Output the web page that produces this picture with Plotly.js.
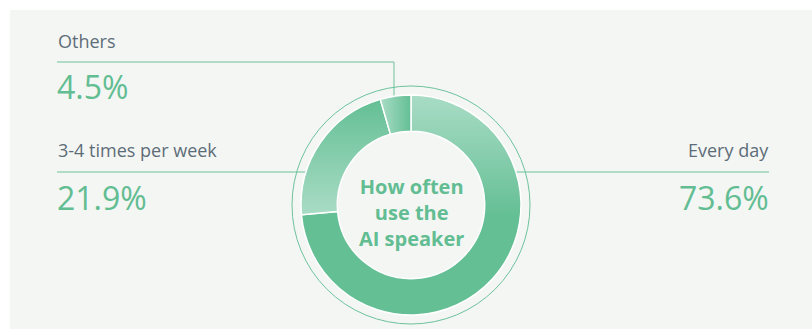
<!DOCTYPE html>
<html>
<head>
<meta charset="utf-8">
<script src="https://cdn.plot.ly/plotly-3.0.1.min.js"></script>
<style>
  html, body { margin: 0; padding: 0; background: #ffffff; }
  #chart { width: 812px; height: 329px; }
</style>
</head>
<body>
<div id="chart"></div>
<script>
/* ── DATA ─────────────────────────────────── */
const categories = ['Every day', '3-4 times per week', 'Others'];
const shares     = [73.6, 21.9, 4.5];
const centerText = 'How often<br>use the<br>AI speaker';

/* ── STYLE ────────────────────────────────── */
const W = 812, H = 329;
const GREEN = '#64bf95';
const GREEN_LIGHT = '#a9dcc5';
const LABEL_GREY = '#5d6d78';
const PCT_GREEN = '#62bd92';
const LINE_GREEN = '#6cc39b';
const FONT = 'Open Sans, sans-serif';

// pixel helpers -> paper coords (margins are zero)
const px = x => x / W;
const py = y => 1 - y / H;

const CX = 411, CY = 205, R = 110;

const trace = {
  type: 'pie',
  labels: categories,
  values: shares,
  hole: 0.67,
  sort: false,
  direction: 'clockwise',
  rotation: 0,
  textinfo: 'none',
  hoverinfo: 'label+percent',
  marker: { colors: [GREEN, GREEN, GREEN], line: { color: '#ffffff', width: 1.5 } },
  domain: { x: [px(CX - R), px(CX + R)], y: [py(CY + R), py(CY - R)] },
  showlegend: false,
};

function label(text, x, y, anchor) {
  return { text, x: px(x), y: py(y), xref: 'paper', yref: 'paper', xanchor: anchor, yanchor: 'middle',
           showarrow: false, font: { family: FONT, size: 18, color: LABEL_GREY } };
}
function pct(v, x, y, anchor) {
  return { text: v.toFixed(1) + '%', x: px(x), y: py(y), xref: 'paper', yref: 'paper', xanchor: anchor, yanchor: 'middle',
           showarrow: false, font: { family: FONT, size: 32, color: PCT_GREEN } };
}
function seg(x0, y0, x1, y1) {
  return { type: 'line', xref: 'paper', yref: 'paper', x0: px(x0), y0: py(y0), x1: px(x1), y1: py(y1),
           line: { color: LINE_GREEN, width: 1 }, layer: 'below' };
}

const layout = {
  width: W, height: H,
  margin: { l: 0, r: 0, t: 0, b: 0 },
  paper_bgcolor: '#ffffff',
  font: { family: FONT },
  shapes: [
    { type: 'rect', xref: 'paper', yref: 'paper', x0: px(10), x1: 1, y0: 0, y1: py(10),
      fillcolor: '#f4f6f4', line: { width: 0 }, layer: 'below' },
    { type: 'circle', xref: 'paper', yref: 'paper', x0: px(CX - 119), x1: px(CX + 119), y0: py(CY + 119), y1: py(CY - 119),
      line: { color: LINE_GREEN, width: 1 }, layer: 'below' },
    seg(57, 62, 394, 62),
    seg(394, 62, 394, 96),
    seg(57, 172, 306, 172),
    seg(516, 172, 769, 172),
  ],
  annotations: [
    label(categories[2], 56, 41, 'left'),
    pct(shares[2], 55, 87, 'left'),
    label(categories[1], 56, 150, 'left'),
    pct(shares[1], 55, 197, 'left'),
    label(categories[0], 771, 150, 'right'),
    pct(shares[0], 771, 197, 'right'),
    { text: centerText, x: px(CX), y: py(212), xref: 'paper', yref: 'paper', xanchor: 'center', yanchor: 'middle',
      showarrow: false, font: { family: FONT, size: 20, color: PCT_GREEN, weight: 'bold' } },
  ],
};

// per-slice gradients: light where each slice starts, darker as it sweeps clockwise
const GRADS = [
  { x1: 0.5, y1: 0, x2: 0.5, y2: 0.55 },
  { x1: 0.5, y1: 1, x2: 0.5, y2: 0 },
  { x1: 0, y1: 0.5, x2: 1, y2: 0.5 },
];

function applyGradients(gd) {
  const NS = 'http://www.w3.org/2000/svg';
  const defs = gd.querySelector('svg.main-svg defs');
  GRADS.forEach((g, i) => {
    const lg = document.createElementNS(NS, 'linearGradient');
    lg.setAttribute('id', 'slicegrad' + i);
    ['x1', 'y1', 'x2', 'y2'].forEach(k => lg.setAttribute(k, g[k]));
    [[0, GREEN_LIGHT], [1, GREEN]].forEach(([o, c]) => {
      const st = document.createElementNS(NS, 'stop');
      st.setAttribute('offset', o);
      st.setAttribute('stop-color', c);
      lg.appendChild(st);
    });
    defs.appendChild(lg);
  });
  gd.querySelectorAll('.slice path.surface').forEach((p, i) => {
    p.style.fill = 'url(#slicegrad' + i + ')';
  });
}

Plotly.newPlot('chart', [trace], layout, { displayModeBar: false, staticPlot: true })
  .then(applyGradients);
</script>
</body>
</html>
